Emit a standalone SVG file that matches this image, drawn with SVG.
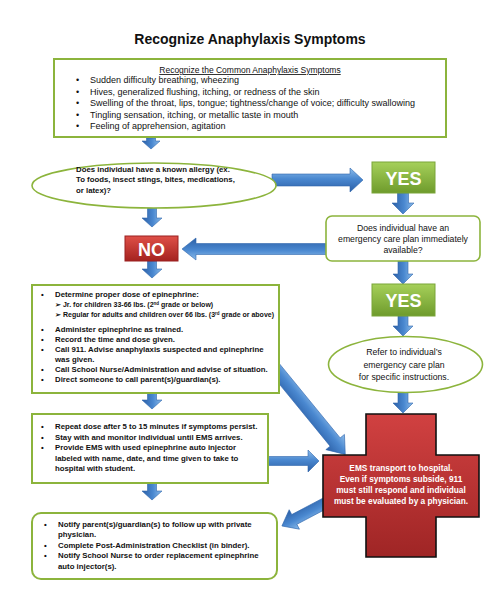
<svg xmlns="http://www.w3.org/2000/svg" width="500" height="616" viewBox="0 0 500 616">
<defs>
<linearGradient id="ag" x1="0" y1="0" x2="0" y2="1"><stop offset="0" stop-color="#8cbcea"/><stop offset="0.45" stop-color="#4a88d0"/><stop offset="1" stop-color="#2b5fa6"/></linearGradient>
<linearGradient id="yg" x1="0" y1="0" x2="0" y2="1"><stop offset="0" stop-color="#a6d05a"/><stop offset="1" stop-color="#6e9b2c"/></linearGradient>
<linearGradient id="ng" x1="0" y1="0" x2="0" y2="1"><stop offset="0" stop-color="#df5048"/><stop offset="1" stop-color="#a4221f"/></linearGradient>
<linearGradient id="cg" x1="0" y1="0" x2="0" y2="1"><stop offset="0" stop-color="#d14141"/><stop offset="1" stop-color="#9f2525"/></linearGradient>
<style>
text{font-family:"Liberation Sans",Arial,sans-serif;fill:#111}
.gb{fill:#fff;stroke:#8cb43c;stroke-width:2}
.ge{fill:#fff;stroke:#8cb43c;stroke-width:1.6}
.arr{fill:url(#ag);stroke:#2f66ad;stroke-width:0.6}
.yes{fill:url(#yg);stroke:#7ba538;stroke-width:1}
.no{fill:url(#ng);stroke:#9a2020;stroke-width:1}
.big{font-weight:bold;font-size:18px;fill:#fff;text-anchor:middle}
.s8{font-size:9px}
.b7{font-size:7.8px;font-weight:bold}
.b6{font-size:7px;font-weight:bold}
.q{font-size:8.7px;text-anchor:middle}
.ct{font-size:8.3px;font-weight:bold;fill:#fff;text-anchor:middle}
</style>
</defs>
<text x="250" y="44" text-anchor="middle" font-size="14" font-weight="bold">Recognize Anaphylaxis Symptoms</text>

<g id="connectors">
<path class="arr" transform="translate(151,138) rotate(90)" d="M0,-4.5 L3,-4.5 L3,-9 L11,0 L3,9 L3,4.5 L0,4.5Z"/>
<path class="arr" transform="translate(152,206) rotate(90)" d="M0,-4.5 L12,-4.5 L12,-10 L21,0 L12,10 L12,4.5 L0,4.5Z"/>
<path class="arr" transform="translate(272,180) rotate(0)" d="M0,-6 L78,-6 L78,-12 L91,0 L78,12 L78,6 L0,6Z"/>
<path class="arr" transform="translate(403,193) rotate(90)" d="M0,-5.5 L10,-5.5 L10,-11 L21,0 L10,11 L10,5.5 L0,5.5Z"/>
<path class="arr" transform="translate(328,249) rotate(180)" d="M0,-5.5 L132,-5.5 L132,-11 L146,0 L132,11 L132,5.5 L0,5.5Z"/>
<path class="arr" transform="translate(152,261) rotate(90)" d="M0,-4.5 L8,-4.5 L8,-10 L17,0 L8,10 L8,4.5 L0,4.5Z"/>
<path class="arr" transform="translate(403,261) rotate(90)" d="M0,-5 L13,-5 L13,-10 L23,0 L13,10 L13,5 L0,5Z"/>
<path class="arr" transform="translate(403,316) rotate(90)" d="M0,-5 L10,-5 L10,-10 L20,0 L10,10 L10,5 L0,5Z"/>
<path class="arr" transform="translate(403,392) rotate(90)" d="M0,-5 L11,-5 L11,-10 L21,0 L11,10 L11,5 L0,5Z"/>
<path class="arr" transform="translate(152,393) rotate(90)" d="M0,-4.5 L7,-4.5 L7,-10 L16,0 L7,10 L7,4.5 L0,4.5Z"/>
<path class="arr" transform="translate(268,360) rotate(50.7)" d="M0,-6.5 L106,-6.5 L106,-12 L122,0 L106,12 L106,6.5 L0,6.5Z"/>
<path class="arr" transform="translate(266,461) rotate(0)" d="M0,-4.5 L42,-4.5 L42,-11 L53,0 L42,11 L42,4.5 L0,4.5Z"/>
<path class="arr" transform="translate(152,483) rotate(90)" d="M0,-4.5 L8,-4.5 L8,-10 L17,0 L8,10 L8,4.5 L0,4.5Z"/>
<path class="arr" transform="translate(335,498) rotate(152.2)" d="M0,-5.5 L46,-5.5 L46,-11 L60,0 L46,11 L46,5.5 L0,5.5Z"/>
</g>

<g id="symptoms">
<rect class="gb" x="54" y="59" width="392" height="78"/>
<text x="250" y="73" text-anchor="middle" font-size="8.5" text-decoration="underline">Recognize the Common Anaphylaxis Symptoms</text>
<g class="s8">
<text x="76" y="83">•</text><text x="90" y="83">Sudden difficulty breathing, wheezing</text>
<text x="76" y="94.5">•</text><text x="90" y="94.5">Hives, generalized flushing, itching, or redness of the skin</text>
<text x="76" y="106">•</text><text x="90" y="106">Swelling of the throat, lips, tongue; tightness/change of voice; difficulty swallowing</text>
<text x="76" y="117.5">•</text><text x="90" y="117.5">Tingling sensation, itching, or metallic taste in mouth</text>
<text x="76" y="129">•</text><text x="90" y="129">Feeling of apprehension, agitation</text>
</g>
</g>

<g id="allergy-question">
<ellipse class="ge" cx="154" cy="185.5" rx="122" ry="22.5"/>
<text class="b7" x="76" y="172">Does individual have a known allergy (ex.</text>
<text class="b7" x="76" y="182">To foods, insect stings, bites, medications,</text>
<text class="b7" x="76" y="192.5">or latex)?</text>
</g>

<g id="yes1">
<rect class="yes" x="372" y="162" width="63" height="31"/>
<text class="big" x="403.5" y="185">YES</text>
</g>

<g id="plan-question">
<rect class="ge" x="326" y="216" width="154" height="45" rx="6"/>
<text class="q" x="403" y="231">Does individual have an</text>
<text class="q" x="403" y="242">emergency care plan immediately</text>
<text class="q" x="403" y="252.5">available?</text>
</g>

<g id="no">
<rect class="no" x="125" y="236" width="53" height="25"/>
<text class="big" x="151.5" y="256">NO</text>
</g>

<g id="yes2">
<rect class="yes" x="372" y="284" width="63" height="32"/>
<text class="big" x="403.5" y="307">YES</text>
</g>

<g id="refer-plan">
<ellipse class="ge" cx="405.5" cy="364.5" rx="77" ry="28"/>
<text class="q" x="404" y="355">Refer to individual’s</text>
<text class="q" x="404" y="367.5">emergency care plan</text>
<text class="q" x="404" y="379.5">for specific instructions.</text>
</g>

<g id="administer">
<rect class="gb" x="32" y="285" width="247" height="108"/>
<text class="b7" x="41" y="297">•</text><text class="b7" x="55" y="297">Determine proper dose of epinephrine:</text>
<text class="b6" x="55" y="307">➢ Jr. for children 33-66 lbs. (2<tspan font-size="4.5" dy="-2.5">nd</tspan><tspan dy="2.5"> grade or below)</tspan></text>
<text class="b6" x="55" y="317">➢ Regular for adults and children over 66 lbs. (3<tspan font-size="4.5" dy="-2.5">rd</tspan><tspan dy="2.5"> grade or above)</tspan></text>
<text class="b7" x="41" y="332">•</text><text class="b7" x="55" y="332">Administer epinephrine as trained.</text>
<text class="b7" x="41" y="342">•</text><text class="b7" x="55" y="342">Record the time and dose given.</text>
<text class="b7" x="41" y="352">•</text><text class="b7" x="55" y="352">Call 911. Advise anaphylaxis suspected and epinephrine</text>
<text class="b7" x="55" y="361.5">was given.</text>
<text class="b7" x="41" y="372">•</text><text class="b7" x="55" y="372">Call School Nurse/Administration and advise of situation.</text>
<text class="b7" x="41" y="382">•</text><text class="b7" x="55" y="382">Direct someone to call parent(s)/guardian(s).</text>
</g>

<g id="repeat-dose">
<rect class="gb" x="32" y="414" width="236" height="69"/>
<text class="b7" x="41" y="429">•</text><text class="b7" x="55" y="429">Repeat dose after 5 to 15 minutes if symptoms persist.</text>
<text class="b7" x="41" y="439.5">•</text><text class="b7" x="55" y="439.5">Stay with and monitor individual until EMS arrives.</text>
<text class="b7" x="41" y="450">•</text><text class="b7" x="55" y="450">Provide EMS with used epinephrine auto injector</text>
<text class="b7" x="55" y="460.5">labeled with name, date, and time given to take to</text>
<text class="b7" x="55" y="471">hospital with student.</text>
</g>

<g id="ems-transport">
<path d="M366,414 H436 V455 H479 V517 H436 V557 H366 V517 H323 V455 H366 Z" fill="url(#cg)" stroke="#111" stroke-width="1.6"/>
<text class="ct" x="401" y="471">EMS transport to hospital.</text>
<text class="ct" x="401" y="482">Even if symptoms subside, 911</text>
<text class="ct" x="401" y="493">must still respond and individual</text>
<text class="ct" x="401" y="504">must be evaluated by a physician.</text>
</g>

<g id="notify">
<rect class="gb" x="32" y="513" width="245" height="66" rx="9"/>
<text class="b7" x="44" y="527">•</text><text class="b7" x="58" y="527">Notify parent(s)/guardian(s) to follow up with private</text>
<text class="b7" x="58" y="537">physician.</text>
<text class="b7" x="44" y="547.5">•</text><text class="b7" x="58" y="547.5">Complete Post-Administration Checklist (in binder).</text>
<text class="b7" x="44" y="558">•</text><text class="b7" x="58" y="558">Notify School Nurse to order replacement epinephrine</text>
<text class="b7" x="58" y="569">auto injector(s).</text>
</g>
</svg>
